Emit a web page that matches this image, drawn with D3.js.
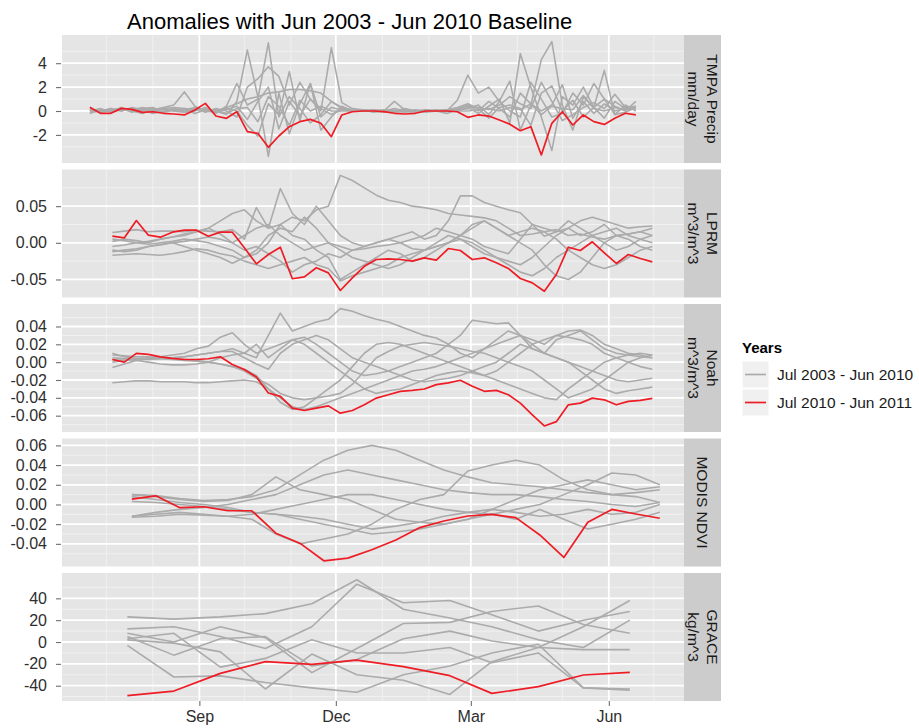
<!DOCTYPE html>
<html>
<head>
<meta charset="utf-8">
<script src="https://cdn.jsdelivr.net/npm/d3@7"></script>
<style>
  body { margin: 0; background: #ffffff; }
  text { font-family: "Liberation Sans", Arial, Helvetica, sans-serif; }
</style>
</head>
<body>
<svg id="chart" width="919" height="728"></svg>
<script>
// ---------- text ----------
const chartTitle = "Anomalies with Jun 2003 - Jun 2010 Baseline";
const stripLabels = [["TMPA Precip", "mm/day"], ["LPRM", "m^3/m^3"], ["Noah", "m^3/m^3"], ["MODIS NDVI"], ["GRACE", "kg/m^3"]];
const legendTitle = "Years";
const legendLabels = ["Jul 2003 - Jun 2010", "Jul 2010 - Jun 2011"];

// ---------- x axis ----------
const xTickDates = ["2010-09-01", "2010-12-01", "2011-03-01", "2011-06-01"];
const xTickLabels = ["Sep", "Dec", "Mar", "Jun"];

// ---------- y axes ----------
const tmpaLimits = [-4.35, 6.36],  tmpaTicks = [-2, 0, 2, 4],                 tmpaTickLabels = ["-2", "0", "2", "4"];
const lprmLimits = [-0.0746, 0.1], lprmTicks = [-0.05, 0, 0.05],              lprmTickLabels = ["-0.05", "0.00", "0.05"];
const noahLimits = [-0.0783, 0.0652], noahTicks = [-0.06, -0.04, -0.02, 0, 0.02, 0.04], noahTickLabels = ["-0.06", "-0.04", "-0.02", "0.00", "0.02", "0.04"];
const ndviLimits = [-0.063, 0.067], ndviTicks = [-0.04, -0.02, 0, 0.02, 0.04, 0.06], ndviTickLabels = ["-0.04", "-0.02", "0.00", "0.02", "0.04", "0.06"];
const graceLimits = [-54, 63.2],   graceTicks = [-40, -20, 0, 20, 40],        graceTickLabels = ["-40", "-20", "0", "20", "40"];

// ---------- sampling of each product ----------
const tmpaStart = "2010-06-20", tmpaStepDays = 7;    // weekly
const lprmStart = "2010-07-05", lprmStepDays = 8;    // 8-day
const noahStart = "2010-07-05", noahStepDays = 8;    // 8-day
const ndviStart = "2010-07-18", ndviStepDays = 16;   // 16-day composites
const graceMonths = ["2010-07-15", "2010-08-15", "2010-09-15", "2010-10-15", "2010-11-15", "2010-12-15",
                     "2011-01-15", "2011-02-15", "2011-03-15", "2011-04-15", "2011-05-15", "2011-06-15"];

// ---------- TMPA precipitation anomalies (mm/day) ----------
const tmpaRed = [0.31,-0.19,-0.19,0.22,0.14,-0.11,-0.06,-0.19,-0.25,-0.33,0.08,0.64,-0.42,
  -0.61,-0.06,-1.73,-1.87,-3.04,-2.09,-1.31,-0.89,-0.70,-1.03,-2.15,-0.33,
  -0.06,0.0,0.0,-0.05,-0.19,-0.25,-0.19,0.0,0.0,0.0,-0.06,
  -0.53,-0.33,-0.42,-0.75,-1.1,-1.65,-1.31,-3.68,-1.03,-0.06,-1.17,-0.33,-0.89,-1.12,-0.61,-0.19,-0.33];
const tmpaGrey = [
  [0.1,-0.1,0.2,0.0,0.3,0.1,-0.2,0.0,0.2,-0.1,0.0,0.3,-0.2, 0.4,2.3,0.5,1.0,5.7,-0.5,1.2,0.2,-1.0,-0.3,0.8,0.2, 0.1,0.0,0.1,0.0,-0.1,0.0,0.1,0.0,0.0,-0.2,0.1, 0.2,0.5,-0.3,0.8,2.5,-1.6,0.5,4.3,5.8,0.5,-1.6,1.2,0.3,-0.6,0.8,0.2,0.4],
  [-0.2,0.1,0.0,0.3,-0.1,0.2,0.3,-0.1,0.1,0.2,-0.2,0.1,0.0, -0.3,0.8,5.1,1.2,-3.8,1.5,-1.9,0.6,2.3,-0.5,0.3,0.1, 0.0,0.1,-0.1,0.0,0.2,0.0,-0.1,0.1,0.0,0.1,0.0, 0.3,-0.2,0.4,1.0,-1.0,4.8,2.0,-0.5,-3.3,1.2,0.5,2.0,0.3,3.4,-0.3,0.5,0.0],
  [0.0,0.2,-0.1,0.1,0.0,-0.2,0.1,0.2,0.0,0.1,0.3,-0.1,0.2, 0.0,-0.5,2.0,2.7,3.7,2.9,0.5,2.4,1.0,0.0,5.3,0.7, 0.2,0.1,0.0,-0.1,0.0,0.1,0.0,0.0,0.1,0.0,0.9, 3.0,1.5,2.0,0.8,0.0,-0.5,2.4,1.0,-0.5,-0.2,1.5,0.5,2.3,1.0,0.4,0.0,0.8],
  [0.1,0.0,0.1,0.2,0.1,0.0,0.2,0.1,0.0,-0.1,0.1,0.2,0.0, 0.3,0.6,1.0,1.2,1.5,1.6,1.8,1.8,1.7,1.5,0.8,0.3, 0.1,0.0,0.0,0.1,0.0,-0.1,0.0,0.1,0.0,0.0,0.2, 0.4,0.3,0.1,0.5,1.2,0.6,0.2,2.4,0.8,-0.8,-0.3,0.3,0.7,0.2,1.4,0.3,0.2],
  [0.2,-0.1,0.0,0.2,0.1,0.3,0.1,0.3,0.5,1.6,0.4,0.0,-0.1, 0.2,0.0,-1.2,-2.1,0.6,-0.3,3.3,-0.8,2.3,-1.6,-0.5,0.4, 0.0,0.1,0.0,0.0,0.8,0.1,0.0,-0.1,0.0,0.1,0.3, 0.6,0.2,-0.6,0.3,0.5,0.2,-1.2,1.5,2.1,0.0,0.9,-0.5,0.3,1.0,-0.3,-0.1,0.3],
  [-0.1,0.0,0.2,0.0,0.2,0.1,0.0,0.2,0.3,0.2,0.1,0.2,0.0, 0.1,0.4,-0.7,0.8,2.0,-1.5,0.8,-0.4,1.0,0.2,-0.3,0.1, 0.0,0.0,0.1,0.0,0.0,0.2,0.0,0.0,0.0,0.1,0.1, 0.5,0.0,0.8,0.2,-0.5,1.5,0.6,0.0,0.5,2.2,-0.6,0.8,-0.2,0.6,0.0,0.2,0.4],
  [0.0,0.1,0.0,0.1,0.0,0.1,0.0,-0.1,0.1,0.0,0.2,0.0,0.1, -0.2,0.2,0.3,-0.9,1.2,0.4,-1.2,0.9,0.0,0.4,0.0,0.0, 0.0,0.0,0.0,0.0,0.0,0.0,0.0,0.0,0.0,0.0,0.0, 0.0,0.1,0.2,0.0,0.3,0.1,0.6,-0.3,0.4,0.2,0.1,1.3,0.2,0.0,0.3,0.1,0.2]
];

// ---------- LPRM soil moisture anomalies (m^3/m^3) ----------
const lprmRed = [0.009,0.0068,0.0304,0.0104,0.0077,0.0145,0.0172,0.0172,0.009,0.0145,
  0.0145,-0.0068,-0.0287,-0.016,-0.006,-0.049,-0.0464,-0.034,-0.041,-0.065,
  -0.0478,-0.032,-0.0228,-0.022,-0.0228,-0.025,-0.0205,-0.0237,-0.0078,-0.0105,
  -0.0228,-0.0205,-0.0273,-0.035,-0.0487,-0.0546,-0.066,-0.0432,-0.006,-0.0105,
  0.0014,-0.0137,-0.0282,-0.016,-0.0214,-0.026];
const lprmGrey = [
  [-0.005,-0.003,0.000,0.002,0.005,0.008,0.012,0.015,0.020,0.030, 0.040,0.045,0.030,0.020,0.025,0.035,0.030,0.045,0.050,0.092, 0.085,0.075,0.065,0.058,0.055,0.050,0.048,0.045,0.040,0.038, 0.036,0.034,0.030,0.020,0.010,0.012,0.015,0.018,0.010,0.012, 0.008,0.005,0.010,0.012,0.015,0.020],
  [0.014,0.016,0.018,0.015,0.016,0.016,0.015,0.017,0.016,0.015, 0.018,0.005,0.048,0.020,0.074,0.040,0.025,0.050,0.030,0.010, 0.000,-0.005,0.000,0.005,0.010,0.015,0.005,0.010,0.030,0.064, 0.064,0.055,0.050,0.045,0.041,0.025,0.009,0.015,0.020,0.010, 0.015,0.025,0.010,0.012,0.015,0.010],
  [0.005,0.003,0.000,-0.002,0.000,0.002,0.005,0.003,0.000,-0.005, -0.010,-0.020,-0.015,0.000,0.025,0.010,0.005,-0.010,-0.020,-0.050, -0.040,-0.030,-0.020,-0.010,-0.015,-0.025,-0.020,-0.010,0.000,0.010, 0.020,0.030,0.020,0.010,0.000,-0.010,-0.030,-0.045,-0.050,-0.040, -0.020,0.000,0.010,0.005,-0.005,-0.010],
  [-0.010,-0.012,-0.010,-0.005,-0.002,0.000,-0.005,-0.010,-0.015,-0.020, -0.028,-0.020,-0.010,0.010,0.020,0.015,0.035,0.020,0.000,-0.010, -0.020,-0.025,-0.030,-0.035,-0.030,-0.020,-0.010,-0.005,0.000,0.005, -0.005,-0.015,-0.020,-0.030,-0.040,-0.045,-0.035,-0.020,-0.010,0.000, 0.010,0.015,0.020,0.010,0.005,0.000],
  [-0.017,-0.016,-0.015,-0.016,-0.017,-0.015,-0.012,-0.008,-0.010,-0.015, -0.018,-0.025,-0.030,-0.035,-0.030,-0.025,-0.020,-0.030,-0.035,-0.052, -0.045,-0.040,-0.035,-0.030,-0.020,-0.015,-0.010,0.000,0.010,0.005, 0.000,-0.010,-0.020,-0.025,-0.030,-0.020,-0.005,0.010,0.020,0.030, 0.035,0.030,0.025,0.020,0.022,0.023],
  [0.002,0.005,0.003,0.000,0.005,0.008,0.010,0.015,0.020,0.012, 0.000,-0.010,-0.005,-0.015,-0.025,-0.040,-0.030,-0.025,-0.015,-0.020, -0.010,-0.005,0.000,0.005,0.000,-0.008,-0.010,-0.005,0.000,0.010, 0.025,0.030,0.020,0.010,0.015,0.020,0.015,0.005,-0.010,-0.020, -0.030,-0.035,-0.030,-0.020,-0.010,-0.005],
  [-0.012,-0.010,-0.008,-0.005,-0.003,0.000,0.002,0.005,0.008,0.005, 0.000,0.010,0.020,0.025,0.010,0.000,-0.010,-0.005,0.000,-0.005, -0.010,-0.008,-0.005,-0.003,0.000,0.005,0.010,0.020,0.015,0.010, 0.005,-0.005,-0.010,-0.015,0.005,0.025,0.020,0.015,0.030,0.020, 0.010,0.000,-0.010,-0.005,0.005,0.010]
];

// ---------- Noah soil moisture anomalies (m^3/m^3) ----------
const noahRed = [0.003,0.000,0.0098,0.0087,0.006,0.0042,0.003,0.003,0.0038,0.006,
  -0.0026,-0.0083,-0.0166,-0.0346,-0.0384,-0.0516,-0.0542,-0.0516,-0.049,-0.0572,
  -0.0542,-0.0478,-0.0403,-0.0365,-0.0327,-0.0316,-0.0301,-0.0252,-0.0233,-0.0203,
  -0.0271,-0.0327,-0.0316,-0.0365,-0.0459,-0.0591,-0.0715,-0.0667,-0.0478,-0.0459,
  -0.0403,-0.0422,-0.0478,-0.044,-0.0429,-0.0407];
const noahGrey = [
  [-0.023,-0.022,-0.021,-0.021,-0.022,-0.022,-0.022,-0.023,-0.023,-0.022, -0.021,-0.020,-0.022,-0.030,-0.040,-0.050,-0.053,-0.050,-0.045,-0.040, -0.035,-0.030,-0.025,-0.020,-0.015,-0.010,-0.008,-0.005,0.000,0.005, 0.010,0.015,0.020,0.025,0.030,0.020,0.010,0.005,0.000,-0.010, -0.020,-0.030,-0.035,-0.032,-0.030,-0.028],
  [0.010,0.006,0.004,0.003,0.004,0.005,0.006,0.008,0.010,0.012, 0.015,0.010,0.005,0.030,0.055,0.035,0.040,0.045,0.048,0.060, 0.057,0.052,0.048,0.045,0.040,0.035,0.030,0.027,0.020,0.010, 0.005,0.015,0.025,0.035,0.030,0.025,0.020,0.030,0.035,0.036, 0.030,0.020,0.015,0.010,0.008,0.005],
  [0.000,0.002,0.004,0.005,0.006,0.008,0.010,0.015,0.018,0.028, 0.033,0.020,0.010,0.015,0.020,0.025,0.028,0.020,0.010,0.000, -0.010,-0.015,-0.013,-0.010,-0.005,0.000,0.005,0.010,0.020,0.030, 0.047,0.045,0.043,0.044,0.030,0.015,0.010,0.025,0.030,0.035, 0.025,0.015,0.010,0.008,0.006,0.005],
  [0.008,0.007,0.006,0.006,0.005,0.004,0.003,0.002,0.000,-0.002, -0.005,-0.008,-0.015,-0.030,-0.045,-0.053,-0.050,-0.040,-0.030,-0.020, -0.005,0.010,0.020,0.022,0.020,0.015,0.010,0.005,0.000,-0.005, -0.010,-0.015,-0.020,-0.025,-0.030,-0.035,-0.040,-0.042,-0.030,-0.020, -0.010,0.000,0.005,0.008,0.010,0.008],
  [0.005,0.004,0.002,0.000,-0.002,-0.003,-0.003,-0.002,0.000,0.005, 0.008,0.010,0.020,0.005,0.015,0.025,0.020,0.010,0.000,-0.010, -0.020,-0.030,-0.035,-0.032,-0.030,-0.025,-0.020,-0.015,-0.012,-0.010, -0.012,-0.015,-0.010,0.000,0.010,0.020,0.025,0.030,0.028,0.025, 0.020,0.010,0.005,0.000,-0.005,-0.008],
  [-0.006,-0.002,0.002,0.004,0.005,0.005,0.006,0.008,0.010,0.012, 0.012,0.005,-0.002,-0.008,0.010,0.020,0.025,0.030,0.025,0.015, 0.005,0.000,-0.005,-0.010,-0.015,-0.020,-0.022,-0.020,-0.018,-0.015, -0.010,-0.005,0.000,0.010,0.020,0.015,0.010,0.005,0.000,-0.005, -0.010,-0.015,-0.020,-0.022,-0.020,-0.018],
  [0.003,0.002,0.003,0.004,0.004,0.003,0.002,0.001,0.000,-0.002, -0.005,-0.010,-0.018,-0.025,-0.035,-0.040,-0.042,-0.040,-0.038,-0.035, -0.025,-0.010,0.005,0.012,0.018,0.020,0.022,0.020,0.018,0.015, 0.012,0.010,0.005,0.000,-0.005,-0.010,-0.020,-0.030,-0.040,-0.035, -0.030,-0.020,-0.010,0.000,0.005,0.008]
];

// ---------- MODIS NDVI anomalies ----------
const ndviRed = [0.0055,0.0088,-0.0033,-0.0023,-0.0064,-0.0064,-0.0292,-0.0393,-0.0572,-0.0545,-0.046,
  -0.036,-0.0235,-0.0168,-0.0117,-0.01,-0.0134,-0.031,-0.0538,-0.0181,-0.005,-0.0097,-0.014];
const ndviGrey = [
  [0.010,0.009,0.006,0.004,0.005,0.008,0.015,0.030,0.045,0.055, 0.060,0.055,0.045,0.035,0.028,0.022,0.020,0.018,0.015,0.012, 0.010,0.012,0.015],
  [-0.012,-0.008,-0.005,-0.003,0.000,0.005,0.010,0.020,0.030,0.035, 0.030,0.025,0.020,0.015,0.012,0.010,0.010,0.008,0.005,0.003, 0.000,-0.002,0.002],
  [0.010,0.008,0.005,0.003,0.004,0.010,0.028,0.015,0.010,0.005, -0.005,-0.015,-0.018,-0.020,-0.015,-0.010,-0.005,0.000,0.010,0.020, 0.032,0.030,0.020],
  [-0.012,-0.010,-0.008,-0.010,-0.012,-0.015,-0.030,-0.040,-0.035,-0.030, -0.020,-0.005,0.005,0.010,0.034,0.040,0.045,0.040,0.025,0.015, 0.010,0.008,0.002],
  [-0.013,-0.012,-0.010,-0.011,-0.012,-0.010,-0.005,0.000,0.005,0.010, 0.010,0.005,0.000,-0.005,-0.008,-0.010,-0.015,-0.005,-0.015,-0.025, -0.020,-0.015,-0.008],
  [0.008,0.005,0.002,0.000,-0.003,-0.008,-0.010,-0.012,-0.015,-0.020, -0.025,-0.022,-0.018,-0.012,-0.008,-0.005,-0.008,-0.012,-0.010,-0.005, -0.010,-0.008,0.000],
  [0.003,0.002,0.000,-0.002,-0.005,-0.008,-0.010,-0.015,-0.020,-0.025, -0.030,-0.028,-0.025,-0.020,-0.015,-0.005,0.005,0.015,0.020,0.025, 0.020,0.015,0.018]
];

// ---------- GRACE water storage anomalies (kg/m^3) ----------
const graceRed = [-49.1,-44.9,-28.7,-18,-20.4,-16.5,-22.6,-30.8,-47,-40.9,-30.2,-27.8];
const graceGrey = [
  [23, 21, 23, 26, 35, 57, 30, 22, 14, 2, -5, 20],
  [12, 14, 5, -6, 14, 53, 36, 38, 25, 10, 20, 28],
  [8, 0, 14, 4, -28, -6, 17, 18, 28, 33, 16, 8],
  [5, -12, 3, 5, -22, -16, 3, 10, 1, -5, -7, -7],
  [3, 8, -23, -15, 2, -10, -10, -5, -19, -10, -42, -44],
  [2, -1, -9, -43, -11, -30, -35, -48, -18, -5, 14, 38],
  [-3, -32, -31, -37, -42, -46, -30, -22, -10, -2, -42, -43]
];

// ---------- layout ----------
const plotLeft = 62, plotRight = 684, stripW = 37;
const panelTop0 = 35, panelH = 128, panelStep = 134.5;
const bgPanel = "#E5E5E5", gridMinor = "#F2F2F2", gridMajor = "#FFFFFF", stripFill = "#CCCCCC";
const greyLine = "#ABABAB", redLine = "#EE1C24";

const parse = d3.utcParse("%Y-%m-%d");
const sampleDates = (start, step, n) => d3.range(n).map(i => d3.utcDay.offset(parse(start), i * step));

const panels = [
  { strip: stripLabels[0], limits: tmpaLimits, ticks: tmpaTicks, tickLabels: tmpaTickLabels,
    dates: sampleDates(tmpaStart, tmpaStepDays, tmpaRed.length), grey: tmpaGrey, red: tmpaRed },
  { strip: stripLabels[1], limits: lprmLimits, ticks: lprmTicks, tickLabels: lprmTickLabels,
    dates: sampleDates(lprmStart, lprmStepDays, lprmRed.length), grey: lprmGrey, red: lprmRed },
  { strip: stripLabels[2], limits: noahLimits, ticks: noahTicks, tickLabels: noahTickLabels,
    dates: sampleDates(noahStart, noahStepDays, noahRed.length), grey: noahGrey, red: noahRed },
  { strip: stripLabels[3], limits: ndviLimits, ticks: ndviTicks, tickLabels: ndviTickLabels,
    dates: sampleDates(ndviStart, ndviStepDays, ndviRed.length), grey: ndviGrey, red: ndviRed },
  { strip: stripLabels[4], limits: graceLimits, ticks: graceTicks, tickLabels: graceTickLabels,
    dates: graceMonths.map(parse), grey: graceGrey, red: graceRed }
];

const svg = d3.select("#chart");

const x = d3.scaleUtc()
  .domain([new Date(Date.UTC(2010, 5, 1, 10)), new Date(Date.UTC(2011, 6, 21, 3))])
  .range([plotLeft, plotRight]);
const majorDates = xTickDates.map(parse);
const minorDates = d3.utcMonth.range(x.domain()[0], x.domain()[1])
  .filter(d => !majorDates.some(m => +m === +d));

// title
svg.append("text")
  .attr("x", 127).attr("y", 29)
  .attr("font-size", 22).attr("fill", "#000")
  .text(chartTitle);

panels.forEach((p, k) => {
  const top = panelTop0 + k * panelStep;
  const y = d3.scaleLinear().domain(p.limits).range([top + panelH, top]);
  const g = svg.append("g");

  // panel background
  g.append("rect").attr("x", plotLeft).attr("y", top)
    .attr("width", plotRight - plotLeft).attr("height", panelH).attr("fill", bgPanel);

  // minor horizontal grid: halfway between majors
  const step = p.ticks[1] - p.ticks[0];
  const minorY = [];
  for (let v = p.ticks[0] - step / 2; v <= p.limits[1]; v += step) {
    if (v >= p.limits[0]) minorY.push(v);
  }
  g.selectAll(".hmin").data(minorY).join("line")
    .attr("x1", plotLeft).attr("x2", plotRight)
    .attr("y1", d => y(d)).attr("y2", d => y(d))
    .attr("stroke", gridMinor).attr("stroke-width", 0.9);
  g.selectAll(".vmin").data(minorDates).join("line")
    .attr("x1", d => x(d)).attr("x2", d => x(d))
    .attr("y1", top).attr("y2", top + panelH)
    .attr("stroke", gridMinor).attr("stroke-width", 0.9);

  // major grid
  g.selectAll(".hmaj").data(p.ticks).join("line")
    .attr("x1", plotLeft).attr("x2", plotRight)
    .attr("y1", d => y(d)).attr("y2", d => y(d))
    .attr("stroke", gridMajor).attr("stroke-width", 1.8);
  g.selectAll(".vmaj").data(majorDates).join("line")
    .attr("x1", d => x(d)).attr("x2", d => x(d))
    .attr("y1", top).attr("y2", top + panelH)
    .attr("stroke", gridMajor).attr("stroke-width", 1.8);

  // series
  const line = d3.line().x((d, i) => x(p.dates[i])).y(d => y(d));
  g.selectAll(".grey").data(p.grey).join("path")
    .attr("d", line).attr("fill", "none")
    .attr("stroke", greyLine).attr("stroke-width", 1.6).attr("stroke-linejoin", "round");
  g.append("path").datum(p.red)
    .attr("d", line).attr("fill", "none")
    .attr("stroke", redLine).attr("stroke-width", 1.7).attr("stroke-linejoin", "round");

  // y axis
  const ax = g.append("g").attr("transform", `translate(${plotLeft - 1},0)`)
    .call(d3.axisLeft(y).tickValues(p.ticks)
      .tickFormat((d, i) => p.tickLabels[i]).tickSize(5).tickPadding(9));
  ax.select(".domain").remove();
  ax.selectAll(".tick line").attr("stroke", "#6E6E6E").attr("stroke-width", 1.1);
  ax.selectAll(".tick text").attr("fill", "#2E2E2E").attr("font-size", 16)
    .attr("font-family", "'Liberation Sans', Arial, sans-serif");

  // strip
  g.append("rect").attr("x", plotRight).attr("y", top)
    .attr("width", stripW).attr("height", panelH).attr("fill", stripFill);
  const cx = plotRight + stripW / 2, cy = top + panelH / 2;
  const st = g.append("text")
    .attr("transform", `translate(${cx},${cy}) rotate(90)`)
    .attr("text-anchor", "middle").attr("font-size", 15.5).attr("fill", "#1A1A1A");
  const n = p.strip.length;
  p.strip.forEach((s, i) => {
    st.append("tspan").attr("x", 0)
      .attr("y", (i - (n - 1) / 2) * 19)
      .attr("dy", "0.35em")
      .text(s);
  });
});

// x axis under the last panel
const bottom = panelTop0 + 4 * panelStep + panelH;
const xa = svg.append("g").attr("transform", `translate(0,${bottom})`)
  .call(d3.axisBottom(x).tickValues(majorDates)
    .tickFormat((d, i) => xTickLabels[i]).tickSize(5).tickPadding(5));
xa.select(".domain").remove();
xa.selectAll(".tick line").attr("stroke", "#6E6E6E").attr("stroke-width", 1.1);
xa.selectAll(".tick text").attr("fill", "#2E2E2E").attr("font-size", 16)
  .attr("font-family", "'Liberation Sans', Arial, sans-serif");

// legend
const lg = svg.append("g").attr("transform", "translate(742,0)");
lg.append("text").attr("x", 0).attr("y", 353)
  .attr("font-size", 15).attr("font-weight", "bold").attr("fill", "#000")
  .text(legendTitle);
const legendColors = [greyLine, redLine];
legendLabels.forEach((lab, i) => {
  const ky = 361 + i * 28;
  lg.append("rect").attr("x", 0).attr("y", ky).attr("width", 27).attr("height", 27)
    .attr("fill", "#F0F0F0").attr("stroke", "#FFFFFF").attr("stroke-width", 1);
  lg.append("line").attr("x1", 3).attr("x2", 24).attr("y1", ky + 13.5).attr("y2", ky + 13.5)
    .attr("stroke", legendColors[i]).attr("stroke-width", 1.7);
  lg.append("text").attr("x", 35).attr("y", ky + 13.5).attr("dy", "0.35em")
    .attr("font-size", 15.5).attr("fill", "#1A1A1A").text(lab);
});
</script>
</body>
</html>
